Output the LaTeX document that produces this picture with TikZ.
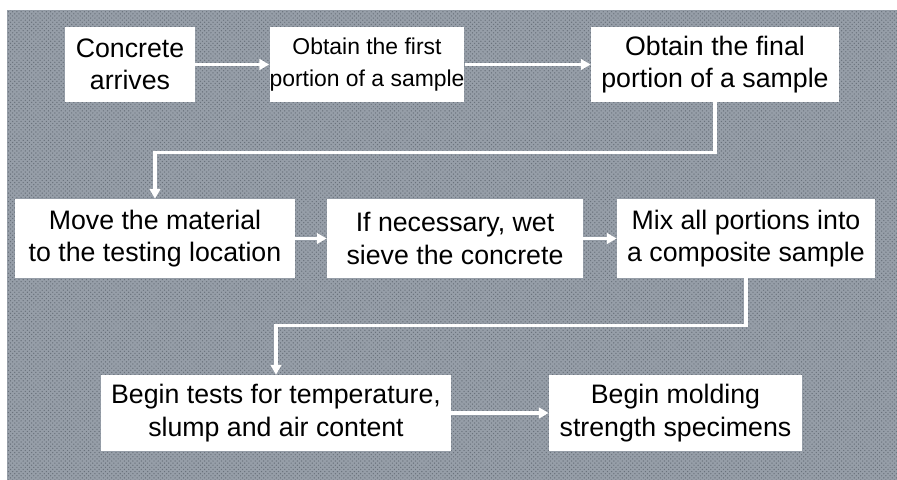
\documentclass[tikz,border=0pt]{standalone}
\usepackage{fontspec}
\setmainfont{Liberation Sans}
\usetikzlibrary{arrows.meta,patterns}
\definecolor{bggray}{RGB}{150,158,168}
\definecolor{bgdots}{RGB}{105,113,123}
\begin{document}
\begin{tikzpicture}[x=0.025cm,y=-0.025cm,
    stepbox/.style={fill=white,align=center,inner sep=0pt,minimum height=1.9cm,
        font=\fontsize{19}{23}\selectfont},
    flow/.style={draw=white,line width=2.2pt,-{Triangle[width=7.5pt,length=7pt]}}]
    \useasboundingbox (0,0) rectangle (897,480);
    %% background
    \fill[bggray] (7,10) rectangle (897,480);
    \fill[pattern=crosshatch dots,pattern color=bgdots] (7,10) rectangle (897,480);
    %% first row
    \node[stepbox,minimum width=3.25cm,minimum height=1.875cm] (arrive) at (130,64.5) {Concrete\\arrives};
    \node[stepbox,minimum width=4.85cm,minimum height=1.875cm,font=\fontsize{16.3}{23}\selectfont] (first) at (367,64.5) {Obtain the first\\portion of a sample};
    \node[stepbox,minimum width=6.2cm,minimum height=1.875cm] (final) at (715,64.5) {Obtain the final\\portion of a sample};
    %% second row
    \node[stepbox,minimum width=7cm,minimum height=1.975cm] (move) at (155,238.5) {Move the material\\to the testing location};
    \node[stepbox,minimum width=6.4cm,minimum height=1.975cm] (sieve) at (455,238.5) {If necessary, wet\\sieve the concrete};
    \node[stepbox,minimum width=6.45cm,minimum height=1.975cm] (mix) at (746,238.5) {Mix all portions into\\a composite sample};
    %% third row
    \node[stepbox,minimum width=8.75cm] (tests) at (276,413) {Begin tests for temperature,\\slump and air content};
    \node[stepbox,minimum width=6.325cm] (mold) at (675.5,413) {Begin molding\\strength specimens};
    %% arrows
    \draw[flow] (arrive) -- (first);
    \draw[flow] (first) -- (final);
    \draw[flow] (final.south) -- ++(0,50) -| (move.north);
    \draw[flow] (move) -- (sieve);
    \draw[flow] (sieve) -- (mix);
    \draw[flow] (mix.south) -- ++(0,47) -| (tests.north);
    \draw[flow] (tests) -- (mold);
\end{tikzpicture}
\end{document}
